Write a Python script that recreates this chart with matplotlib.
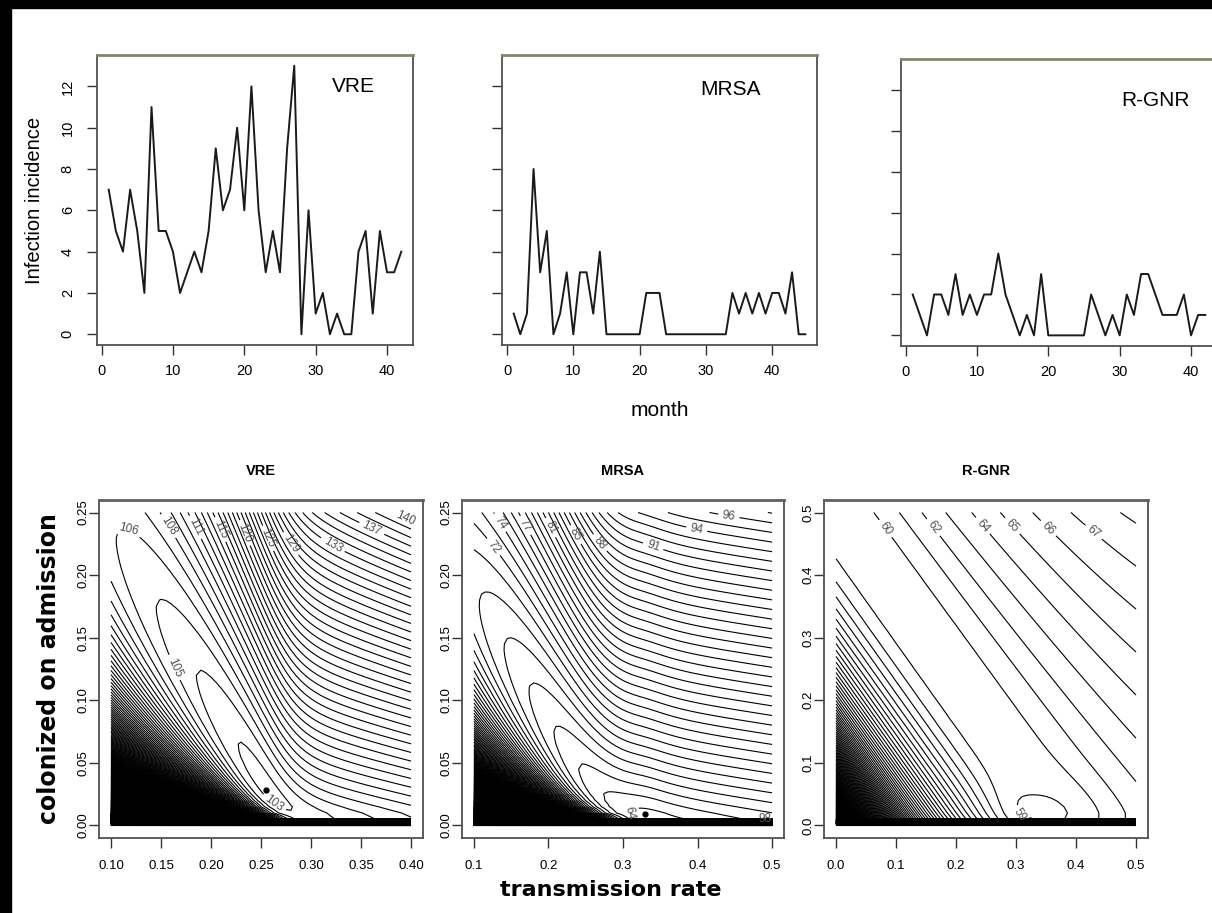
import numpy as np
import matplotlib
matplotlib.use("Agg")
import matplotlib.pyplot as plt
from matplotlib.patches import Rectangle
from matplotlib.ticker import FormatStrFormatter

plt.rcParams['font.family'] = ['Liberation Sans', 'DejaVu Sans']

# monthly infection counts (top row)
vre_counts = [7, 5, 4, 7, 5, 2, 11, 5, 5, 4, 2, 3, 4, 3, 5, 9, 6, 7, 10, 6, 12, 6, 3, 5, 3,
              9, 13, 0, 6, 1, 2, 0, 1, 0, 0, 4, 5, 1, 5, 3, 3, 4]
mrsa_counts = [1, 0, 1, 8, 3, 5, 0, 1, 3, 0, 3, 3, 1, 4, 0, 0, 0, 0, 0, 0, 2, 2, 2, 0, 0, 0,
               0, 0, 0, 0, 0, 0, 0, 2, 1, 2, 1, 2, 1, 2, 2, 1, 3, 0, 0]
rgnr_counts = [2, 1, 0, 2, 2, 1, 3, 1, 2, 1, 2, 2, 4, 2, 1, 0, 1, 0, 3, 0, 0, 0, 0, 0, 0, 2,
               1, 0, 1, 0, 2, 1, 3, 3, 2, 1, 1, 1, 2, 0, 1, 1]
top_names = ['VRE', 'MRSA', 'R-GNR']

# likelihood surfaces (bottom row)
# best fit: transmission rate, colonized on admission, -log likelihood
vre_best = [0.255, 0.028, 102.6]
mrsa_best = [0.33, 0.009, 63.6]
rgnr_best = [0.323, 0.008, 58.4]
# grid: x from, x to, n, p to, n
vre_grid = [0.10, 0.40, 61, 0.25, 51]
mrsa_grid = [0.10, 0.50, 81, 0.25, 51]
rgnr_grid = [0.00, 0.50, 51, 0.50, 51]
# VRE / MRSA valley: slope left, slope right of best fit
vre_valley = [25, 25]
mrsa_valley = [30, 12]
# ridge of best admission fraction: k, xc, s, floor
vre_ridge = [1.35, 0.27, 0.015, 0.005]
mrsa_ridge = [1.05, 0.272, 0.03, 0.003]
# steepness above the ridge (base, change with x) and below it
vre_steep = [110, 120, 110]
mrsa_steep = [130, 0, 130]
# R-GNR: flat plain between two families of straight contours
rgnr_plain = 59.6
rgnr_upper = [0.589, -1.34, 20, -18, 0.2]   # edge intercept, slope, steepness, its change, at x
rgnr_lower = [0.467, -1.35, 230, 8000]      # edge intercept, slope, quadratic, 6th power
rgnr_dip = [0.33, 1.3, 0.09, 0.06]          # centre x, depth, width x, width p
rgnr_bottom = 0.003

vre_levels = np.arange(103, 2001, 1.0)
mrsa_levels = np.arange(64, 2001, 1.0)
rgnr_levels = np.arange(59, 1001, 1.0)

vre_labels = [106, 108, 111, 115, 120, 125, 129, 133, 137, 140, 105, 103]
vre_label_pos = [(0.117, 0.236), (0.151, 0.236), (0.179, 0.236), (0.208, 0.236),
                 (0.241, 0.236), (0.276, 0.236), (0.302, 0.236), (0.33, 0.236),
                 (0.36, 0.236), (0.389, 0.236), (0.16, 0.125), (0.265, 0.02)]
mrsa_labels = [72, 74, 77, 81, 85, 88, 91, 94, 96, 98, 64]
mrsa_label_pos = [(0.11, 0.215), (0.13, 0.24), (0.17, 0.24), (0.21, 0.24), (0.26, 0.24),
                  (0.30, 0.24), (0.35, 0.24), (0.40, 0.24), (0.44, 0.24), (0.49, 0.24),
                  (0.29, 0.008)]
rgnr_labels = [60, 62, 64, 65, 66, 67, 59]
rgnr_label_pos = [(0.085, 0.476), (0.162, 0.476), (0.241, 0.476), (0.291, 0.476),
                  (0.355, 0.476), (0.436, 0.476), (0.30, 0.012)]


def sp(z, w=0.01):
    return w * np.logaddexp(0, z / w)


def make_grid(grid):
    xs = np.linspace(grid[0], grid[1], grid[2])
    ps = np.linspace(0, grid[3], grid[4])
    X, P = np.meshgrid(xs, ps)
    P = np.where(P == 0, ps[1] * 0.1, P)
    return xs, ps, X, P


def valley_surface(grid, best, valley, ridge, steep, top_level):
    xs, ps, X, P = make_grid(grid)
    bx, by, fmin = best
    sl, sr = valley
    V = fmin + sl * (sp(bx - X) - sp(0)) + sr * (sp(X - bx) - sp(0))
    k, xc, s, floor = ridge
    dp = P - (k * sp(xc - X, s) + floor)
    hi0, hi1, lo = steep
    z = V + np.where(dp > 0, (hi0 + hi1 * (X - grid[0])) * dp ** 2 / P, lo * dp ** 2 / P)
    z[0, :] = top_level + 1
    return xs, ps, np.minimum(z, top_level + 1)


def plain_surface(grid, top_level):
    xs, ps, X, P = make_grid(grid)
    a, b, s0, s1, sx = rgnr_upper
    up = (s0 + s1 * (X - sx)) * sp(P - (a + b * X) + 0.011, 0.02)
    a2, b2, q2, q6 = rgnr_lower
    d = sp(a2 + b2 * X - P)
    low = q2 * d ** 2 + q6 * d ** 6
    cx, depth, wx, wp = rgnr_dip
    dip = depth * np.exp(-((X - cx) / wx) ** 2 - (P / wp) ** 2)
    z = rgnr_plain + up + low - dip + rgnr_bottom / P
    z[0, :] = top_level + 1
    return xs, ps, np.minimum(z, top_level + 1)


W, H = 1212, 913
fig = plt.figure(figsize=(W / 100, H / 100), dpi=100)
fig.patches.append(Rectangle((0, 0), 11 / W, 1, transform=fig.transFigure,
                             color='black', zorder=0))
fig.patches.append(Rectangle((0, 1 - 8 / H), 1, 8 / H, transform=fig.transFigure,
                             color='black', zorder=0))


def box(ax, topcol='#85856d'):
    for side in ['left', 'right', 'bottom']:
        ax.spines[side].set_color('#505050')
        ax.spines[side].set_linewidth(1.3)
    ax.spines['top'].set_color(topcol)
    ax.spines['top'].set_linewidth(2.0)


# ---- top row: monthly incidence ----
top_rects = [(97, 345, 316, 290), (502, 345, 315, 290), (901, 346, 316, 287)]
top_text = [(0.81, 0.89), (0.724, 0.88), (0.804, 0.857)]
for i, counts in enumerate([vre_counts, mrsa_counts, rgnr_counts]):
    l, b, w, h = top_rects[i]
    ax = fig.add_axes([l / W, 1 - b / H, w / W, h / H])
    months = np.arange(1, len(counts) + 1)
    ax.plot(months, counts, color='#1a1a1a', lw=1.4)
    n = len(counts)
    ax.set_xlim(1 - 0.04 * (n - 1), n + 0.04 * (n - 1))
    ax.set_ylim(-0.52, 13.52)
    ax.set_xticks([0, 10, 20, 30, 40])
    ax.set_yticks(np.arange(0, 13, 2))
    ax.tick_params(length=7, width=1, color='#333333', labelsize=10.5, pad=7)
    if i == 0:
        ax.set_yticklabels([str(v) for v in range(0, 13, 2)], rotation=90, va='center')
        ax.tick_params(axis='y', pad=9)
        ax.set_ylabel('Infection incidence', fontsize=14.5, labelpad=12)
    else:
        ax.set_yticklabels([])
    ax.text(top_text[i][0], top_text[i][1], top_names[i], transform=ax.transAxes,
            ha='center', va='center', fontsize=15)
    box(ax)
    if i == 1:
        ax.set_xlabel('month', fontsize=15, labelpad=16)

# ---- bottom row: likelihood contours ----
bot_rects = [(99, 838, 324, 338), (462, 838, 322, 338), (824, 838, 324, 338)]
surfaces = [
    valley_surface(vre_grid, vre_best, vre_valley, vre_ridge, vre_steep, vre_levels[-1]),
    valley_surface(mrsa_grid, mrsa_best, mrsa_valley, mrsa_ridge, mrsa_steep, mrsa_levels[-1]),
    plain_surface(rgnr_grid, rgnr_levels[-1]),
]
panels = [
    (vre_grid, vre_best, vre_levels, vre_labels, vre_label_pos,
     np.arange(0.10, 0.401, 0.05), '%.2f', np.arange(0, 0.251, 0.05), '%.2f'),
    (mrsa_grid, mrsa_best, mrsa_levels, mrsa_labels, mrsa_label_pos,
     np.arange(0.1, 0.501, 0.1), '%.1f', np.arange(0, 0.251, 0.05), '%.2f'),
    (rgnr_grid, rgnr_best, rgnr_levels, rgnr_labels, rgnr_label_pos,
     np.arange(0, 0.501, 0.1), '%.1f', np.arange(0, 0.501, 0.1), '%.1f'),
]
for i, (grid, best, levels, labs, lab_pos, xt, xf, yt, yf) in enumerate(panels):
    l, b, w, h = bot_rects[i]
    ax = fig.add_axes([l / W, 1 - b / H, w / W, h / H])
    xs, ps, z = surfaces[i]
    plain = [v for v in levels if v not in labs]
    ax.contour(xs, ps, z, levels=plain, colors='black', linewidths=0.8)
    for lev, pos in zip(labs, lab_pos):
        if not (z.min() < lev < z.max()):
            continue
        one = ax.contour(xs, ps, z, levels=[float(lev)], colors='black', linewidths=0.8)
        try:
            ax.clabel(one, manual=[pos], inline=True, fmt='%d', fontsize=8.5,
                      colors='#505050')
        except Exception:
            pass
    ax.plot(best[0], best[1], 'o', color='black', ms=3.5)
    xr = grid[1] - grid[0]
    ax.set_xlim(grid[0] - 0.04 * xr, grid[1] + 0.04 * xr)
    ax.set_ylim(-0.04 * grid[3], 1.04 * grid[3])
    ax.set_xticks(xt)
    ax.set_yticks(yt)
    ax.xaxis.set_major_formatter(FormatStrFormatter(xf))
    ax.yaxis.set_major_formatter(FormatStrFormatter(yf))
    ax.tick_params(length=7, width=1, color='#333333', labelsize=9.5)
    ax.tick_params(axis='x', pad=9)
    ax.tick_params(axis='y', pad=0)
    for t in ax.get_yticklabels():
        t.set_rotation(90)
        t.set_va('center')
    box(ax, topcol='#606060')
    ax.set_title(top_names[i], fontsize=10.5, fontweight='bold', pad=18)
    if i == 0:
        ax.set_ylabel('colonized on admission', fontsize=17, fontweight='bold',
                      family='DejaVu Sans', labelpad=12)
    if i == 1:
        ax.set_xlabel('transmission rate', fontsize=16, fontweight='bold',
                      family='DejaVu Sans', labelpad=3)
        ax.xaxis.set_label_coords(0.463, -0.125)

fig.savefig('out.png', dpi=100)
